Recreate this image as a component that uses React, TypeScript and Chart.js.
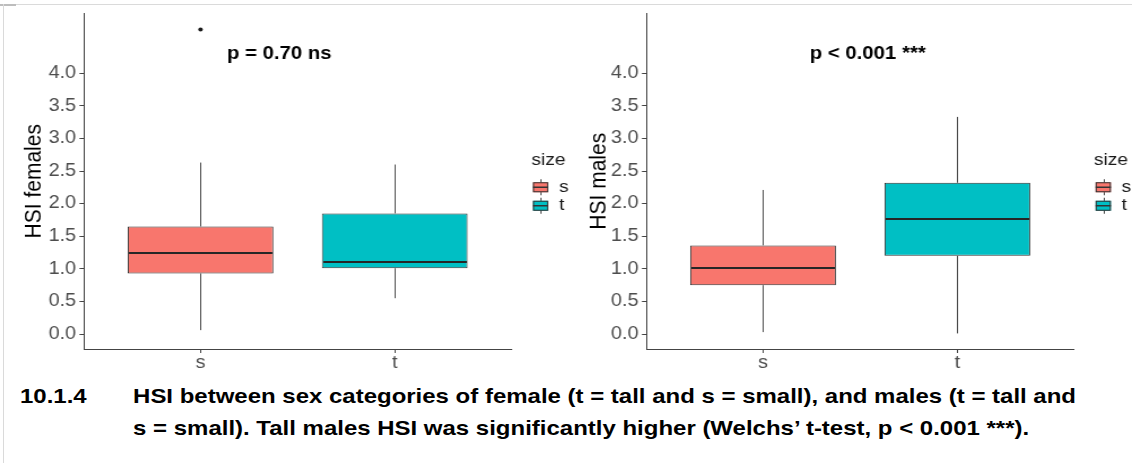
import React, { useEffect, useRef } from 'react';
import { Chart, registerables } from 'chart.js';

Chart.register(...registerables);

const FONT = "'Liberation Sans', Arial, sans-serif";
const STRETCH = 1.13; // the reference figure is horizontally stretched

// ---- data ----
const categories = ['s', 't'];
const yTickValues = [0, 0.5, 1, 1.5, 2, 2.5, 3, 3.5, 4];
const fillColors = ['#F8766D', '#00BFC4'];

const femaleQ1 = [0.93, 1.01];
const femaleMedian = [1.24, 1.11];
const femaleQ3 = [1.65, 1.85];
const femaleLowerWhisker = [0.06, 0.55];
const femaleUpperWhisker = [2.63, 2.6];
const femaleOutliers = [[4.67], []];

const maleQ1 = [0.75, 1.2];
const maleMedian = [1.02, 1.76];
const maleQ3 = [1.36, 2.32];
const maleLowerWhisker = [0.03, 0.01];
const maleUpperWhisker = [2.21, 3.33];
const maleOutliers = [[], []];

type Stats = {
  q1: number[];
  med: number[];
  q3: number[];
  lo: number[];
  hi: number[];
  out: number[][];
};

type PanelProps = {
  left: number;
  cssWidth: number;
  height: number;
  yAxisWidth: number;
  padRight: number;
  titlePad: number;
  yTitle: string;
  stats: Stats;
  pText: string;
  pX: number;
  pY: number;
};

function BoxPanel(p: PanelProps) {
  const ref = useRef<HTMLCanvasElement>(null);
  const drawWidth = Math.round(p.cssWidth / STRETCH);
  useEffect(() => {
    const st = p.stats;
    const boxExtras = {
      id: 'boxExtras',
      afterDatasetsDraw(chart: any) {
        const { ctx, scales } = chart;
        const x = scales.x;
        const y = scales.y;
        ctx.save();
        categories.forEach((_c, i) => {
          const bar = chart.getDatasetMeta(i).data[0];
          const cx = Math.round(x.getPixelForValue(i + 1)) + 0.5;
          const half = bar.width / 2;
          ctx.strokeStyle = '#4a4a4a';
          ctx.lineWidth = 1;
          ctx.beginPath();
          ctx.moveTo(cx, y.getPixelForValue(st.q3[i]));
          ctx.lineTo(cx, y.getPixelForValue(st.hi[i]));
          ctx.moveTo(cx, y.getPixelForValue(st.q1[i]));
          ctx.lineTo(cx, y.getPixelForValue(st.lo[i]));
          ctx.stroke();
          ctx.strokeStyle = '#262626';
          ctx.lineWidth = 2;
          const my = Math.round(y.getPixelForValue(st.med[i]));
          ctx.beginPath();
          ctx.moveTo(cx - half + 1, my);
          ctx.lineTo(cx + half - 1, my);
          ctx.stroke();
        });
        ctx.restore();
      },
      afterDraw(chart: any) {
        const { ctx, chartArea, scales } = chart;
        ctx.save();
        // p-value annotation
        ctx.font = `bold 18px ${FONT}`;
        ctx.fillStyle = '#000';
        ctx.textAlign = 'center';
        ctx.textBaseline = 'alphabetic';
        ctx.fillText(p.pText, scales.x.getPixelForValue(p.pX), scales.y.getPixelForValue(p.pY));
        // legend
        const mid = (chartArea.top + chartArea.bottom) / 2;
        const lx = chartArea.right + 17.7;
        ctx.textAlign = 'left';
        ctx.textBaseline = 'middle';
        ctx.font = `17px ${FONT}`;
        ctx.fillStyle = '#1a1a1a';
        ctx.fillText('size', lx, mid - 21);
        categories.forEach((c, i) => {
          const ky = mid + 6 + i * 18.5;
          const kx = lx + 1.5;
          const kw = 13.5;
          const kcx = Math.round(kx + kw / 2) + 0.5;
          ctx.strokeStyle = '#4a4a4a';
          ctx.lineWidth = 1;
          ctx.beginPath();
          ctx.moveTo(kcx, ky - 8);
          ctx.lineTo(kcx, ky + 8);
          ctx.stroke();
          ctx.fillStyle = fillColors[i];
          ctx.fillRect(kx, ky - 5, kw, 10);
          ctx.strokeStyle = '#333';
          ctx.strokeRect(kx + 0.5, ky - 4.5, kw - 1, 9);
          ctx.lineWidth = 1.5;
          ctx.beginPath();
          ctx.moveTo(kx, ky);
          ctx.lineTo(kx + kw, ky);
          ctx.stroke();
          ctx.fillStyle = '#1a1a1a';
          ctx.font = `17px ${FONT}`;
          ctx.fillText(c, lx + 24.5, ky);
        });
        ctx.restore();
      },
    };

    const outlierPoints: { x: number; y: number }[] = [];
    st.out.forEach((arr, i) => arr.forEach((v) => outlierPoints.push({ x: i + 1, y: v })));

    const datasets: any[] = categories.map((c, i) => ({
      type: 'bar',
      label: c,
      data: [{ x: i + 1, y: [st.q1[i], st.q3[i]] }],
      backgroundColor: fillColors[i],
      borderColor: '#333333',
      borderWidth: 1,
      borderSkipped: false,
      grouped: false,
      barPercentage: 0.75,
      categoryPercentage: 1,
    }));
    datasets.push({
      type: 'scatter',
      label: 'outliers',
      data: outlierPoints,
      pointRadius: 2,
      pointBackgroundColor: '#1a1a1a',
      pointBorderWidth: 0,
      showLine: false,
    });

    const chart = new Chart(ref.current as HTMLCanvasElement, {
      type: 'bar',
      data: { datasets },
      plugins: [boxExtras],
      options: {
        animation: false,
        responsive: false,
        maintainAspectRatio: false,
        devicePixelRatio: 1,
        events: [],
        layout: { padding: { top: 12, right: p.padRight, left: 0, bottom: 0 } },
        plugins: { legend: { display: false }, tooltip: { enabled: false } },
        scales: {
          x: {
            type: 'linear',
            min: 0.4,
            max: 2.6,
            offset: false,
            afterBuildTicks: (axis: any) => {
              axis.ticks = categories.map((_c, i) => ({ value: i + 1 }));
            },
            afterFit: (axis: any) => {
              axis.height = 31;
            },
            ticks: {
              callback: (v: any) => categories[Number(v) - 1] ?? '',
              font: { family: FONT, size: 17.5 },
              color: '#4d4d4d',
              padding: 0,
              maxRotation: 0,
            },
            grid: {
              offset: false,
              drawOnChartArea: false,
              drawTicks: true,
              tickLength: 4,
              tickColor: '#444',
            },
            border: { display: true, color: '#444', width: 1 },
          },
          y: {
            type: 'linear',
            min: -0.229,
            max: 4.916,
            afterBuildTicks: (axis: any) => {
              axis.ticks = yTickValues.map((v) => ({ value: v }));
            },
            afterFit: (axis: any) => {
              axis.width = p.yAxisWidth;
            },
            ticks: {
              callback: (v: any) => Number(v).toFixed(1),
              font: { family: FONT, size: 17.5 },
              color: '#4d4d4d',
              padding: 3,
            },
            grid: {
              drawOnChartArea: false,
              drawTicks: true,
              tickLength: 4,
              tickColor: '#444',
            },
            border: { display: true, color: '#444', width: 1 },
            title: {
              display: true,
              text: p.yTitle,
              font: { family: FONT, size: 21 },
              color: '#000',
              padding: { top: p.titlePad, bottom: 0 },
            },
          },
        },
      } as any,
    });
    return () => chart.destroy();
  }, []);
  return (
    <canvas
      ref={ref}
      width={drawWidth}
      height={p.height}
      style={{
        position: 'absolute',
        left: p.left,
        top: 0,
        display: 'block',
        width: `${p.cssWidth}px`,
        height: `${p.height}px`,
      }}
    />
  );
}

export default function App() {
  const femaleStats: Stats = {
    q1: femaleQ1,
    med: femaleMedian,
    q3: femaleQ3,
    lo: femaleLowerWhisker,
    hi: femaleUpperWhisker,
    out: femaleOutliers,
  };
  const maleStats: Stats = {
    q1: maleQ1,
    med: maleMedian,
    q3: maleQ3,
    lo: maleLowerWhisker,
    hi: maleUpperWhisker,
    out: maleOutliers,
  };
  return (
    <div
      style={{
        position: 'absolute',
        left: 0,
        top: 0,
        width: 1132,
        height: 463,
        background: '#fff',
        overflow: 'hidden',
        fontFamily: FONT,
      }}
    >
      <div style={{ position: 'absolute', left: 0, top: 4, width: 1132, height: 1, background: '#dadada' }} />
      <div style={{ position: 'absolute', left: 0, top: 4, width: 16, height: 2, background: '#bdbdbd' }} />
      <div style={{ position: 'absolute', left: 3, top: 4, width: 1, height: 459, background: '#dadada' }} />
      <BoxPanel
        left={0}
        cssWidth={580}
        height={380}
        yAxisWidth={74.3}
        padRight={60.8}
        titlePad={17.8}
        yTitle="HSI females"
        stats={femaleStats}
        pText="p = 0.70 ns"
        pX={1.405}
        pY={4.22}
      />
      <BoxPanel
        left={566}
        cssWidth={566}
        height={380}
        yAxisWidth={71.2}
        padRight={51.4}
        titlePad={16.2}
        yTitle="HSI males"
        stats={maleStats}
        pText="p < 0.001 ***"
        pX={1.539}
        pY={4.22}
      />
      <div
        style={{
          position: 'absolute',
          left: 20,
          top: 380,
          font: `bold 21px ${FONT}`,
          lineHeight: '32px',
          whiteSpace: 'pre',
          color: '#000',
          transform: 'scaleX(1.142)',
          transformOrigin: '0 0',
        }}
      >
        <div>
          <span style={{ display: 'inline-block', width: 99 }}>10.1.4</span>
          <span>HSI between sex categories of female (t = tall and s = small), and males (t = tall and</span>
        </div>
        <div style={{ paddingLeft: 99 }}>
          s = small). Tall males HSI was significantly higher (Welchs’ t-test, p &lt; 0.001 ***).
        </div>
      </div>
    </div>
  );
}
